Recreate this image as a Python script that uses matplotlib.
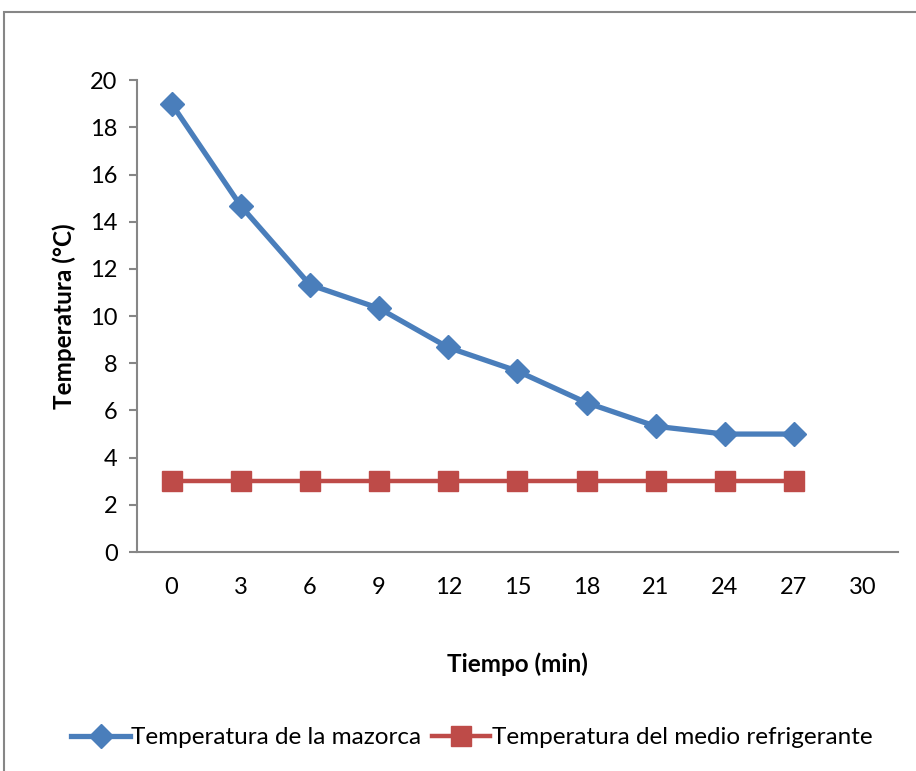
import numpy as np
import matplotlib.pyplot as plt
from matplotlib.patches import Rectangle

plt.rcParams['font.family'] = ['Lato', 'DejaVu Sans']

# Time categories (min) and temperatures (°C)
tiempo = ["0", "3", "6", "9", "12", "15", "18", "21", "24", "27", "30"]
temp_mazorca = [19, 14.67, 11.33, 10.33, 8.67, 7.67, 6.33, 5.33, 5, 5]
temp_medio = [3, 3, 3, 3, 3, 3, 3, 3, 3, 3]

blue = "#4A7EBB"
red = "#BE4B48"
gray = "#868686"

fig = plt.figure(figsize=(9.16, 7.71), dpi=100)
ax = fig.add_axes([0.1496, 0.284, 0.8304, 0.612])

x = np.arange(len(tiempo))
ax.plot(x[:len(temp_mazorca)], temp_mazorca, color=blue, lw=3.8,
        marker="D", ms=12, label="Temperatura de la mazorca")
ax.plot(x[:len(temp_medio)], temp_medio, color=red, lw=3.2,
        marker="s", ms=14, label="Temperatura del medio refrigerante")

ax.set_xlim(-0.5, len(tiempo) - 0.5)
ax.set_ylim(0, 20)
ax.set_yticks(np.arange(0, 21, 2))
ax.set_xticks(x)
ax.set_xticklabels(tiempo)
ax.tick_params(axis="x", length=0, pad=18, labelsize=17)
ax.tick_params(axis="y", length=6, width=1.5, color=gray, pad=8, labelsize=17)

for side in ("top", "right"):
    ax.spines[side].set_visible(False)
for side in ("left", "bottom"):
    ax.spines[side].set_color(gray)
    ax.spines[side].set_linewidth(1.5)

ax.set_xlabel("Tiempo (min)", fontsize=17.5, fontweight="bold", labelpad=39)
ax.set_ylabel("Temperatura (°C)", fontsize=17.5, fontweight="bold", labelpad=10)

fig.legend(loc="center", bbox_to_anchor=(0.515, 0.043), ncol=2, frameon=False,
           fontsize=17.5, handlelength=2.4, handletextpad=0.05, columnspacing=0.45)

# outer chart border
fig.patches.append(Rectangle((0.0044, -0.05), 1.1, 1.034, transform=fig.transFigure,
                             fill=False, edgecolor=gray, lw=1.5))

fig.savefig("out.png", dpi=100)
